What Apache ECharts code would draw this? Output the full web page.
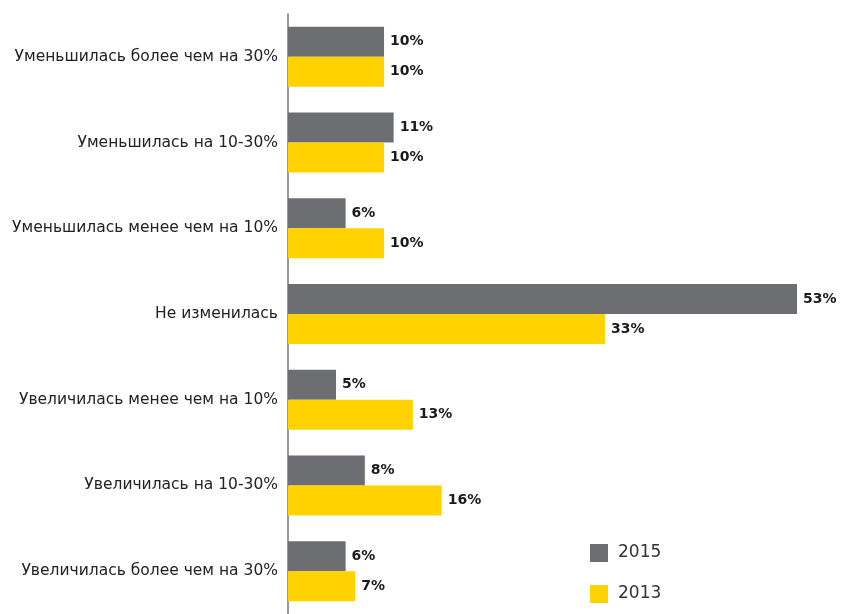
<!DOCTYPE html>
<html>
<head>
<meta charset="utf-8">
<script src="https://cdn.jsdelivr.net/npm/echarts@6/dist/echarts.min.js"></script>
<style>
html,body{margin:0;padding:0;background:#fff;}
#chart{width:841px;height:614px;}
</style>
</head>
<body>
<div id="chart"></div>
<script>
// Answer categories, top to bottom
const categories = [
  'Уменьшилась более чем на 30%',
  'Уменьшилась на 10-30%',
  'Уменьшилась менее чем на 10%',
  'Не изменилась',
  'Увеличилась менее чем на 10%',
  'Увеличилась на 10-30%',
  'Увеличилась более чем на 30%'
];
// Share of respondents, %
const values2015 = [10, 11, 6, 53, 5, 8, 6];
const values2013 = [10, 10, 10, 33, 13, 16, 7];
const seriesNames = ['2015', '2013'];

const chart = echarts.init(document.getElementById('chart'));

const labelStyle = {
  show: true,
  position: 'right',
  distance: 6,
  formatter: '{c}%',
  color: '#1a1a1a',
  fontFamily: 'DejaVu Sans',
  fontWeight: 'bold',
  fontSize: 14
};

chart.setOption({
  animation: false,
  grid: { left: 288, top: 14, width: 509, height: 602, containLabel: false },
  legend: {
    orient: 'vertical',
    left: 585,
    top: 539,
    itemWidth: 18,
    itemHeight: 18,
    itemGap: 23,
    icon: 'rect',
    textStyle: { fontFamily: 'DejaVu Sans', fontSize: 17, color: '#333', padding: [0, 0, 0, 5] },
    data: seriesNames
  },
  xAxis: {
    type: 'value',
    min: 0,
    max: 53,
    show: false
  },
  yAxis: {
    type: 'category',
    inverse: true,
    data: categories,
    axisLine: { show: true, lineStyle: { color: '#999', width: 2 } },
    axisTick: { show: false },
    axisLabel: {
      margin: 10,
      color: '#222',
      fontFamily: 'DejaVu Sans',
      fontSize: 15.5
    }
  },
  series: [
    {
      name: seriesNames[0],
      type: 'bar',
      data: values2015,
      itemStyle: { color: '#6d6e71' },
      barGap: '0%',
      barCategoryGap: '30%',
      label: labelStyle
    },
    {
      name: seriesNames[1],
      type: 'bar',
      data: values2013,
      itemStyle: { color: '#ffd200' },
      label: labelStyle
    }
  ]
});
</script>
</body>
</html>
